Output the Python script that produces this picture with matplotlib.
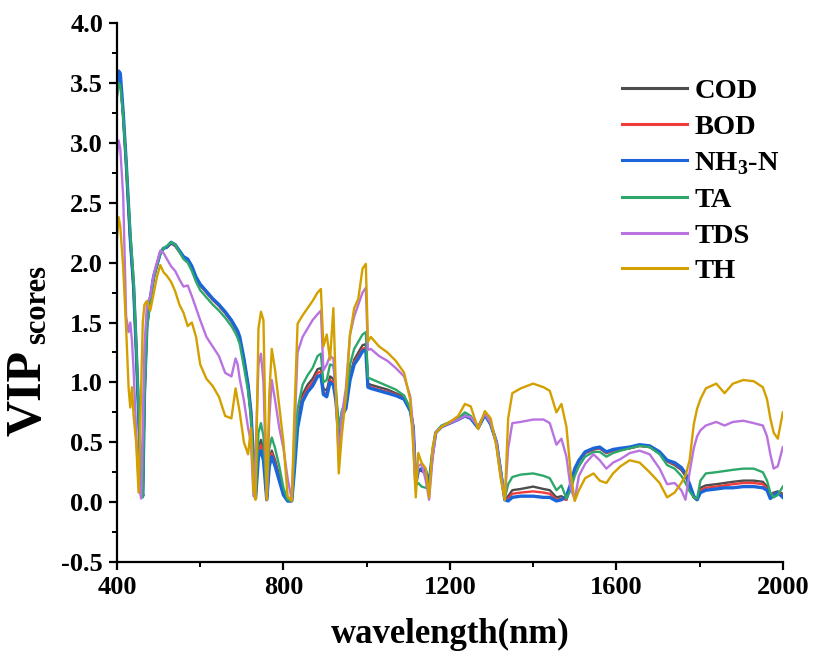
import matplotlib
matplotlib.use("Agg")
import matplotlib.pyplot as plt
from matplotlib.ticker import MultipleLocator, FormatStrFormatter

plt.rcParams['font.family'] = ['Liberation Serif', 'DejaVu Serif']
plt.rcParams['font.weight'] = 'bold'
plt.rcParams['mathtext.fontset'] = 'custom'
plt.rcParams['mathtext.rm'] = 'Liberation Serif:bold'
plt.rcParams['mathtext.bf'] = 'Liberation Serif:bold'

# ---- data ----
wavelength = [
    400, 404, 408, 415, 422, 428, 432, 436, 440, 446, 452, 458, 462, 466, 472, 480, 488, 496, 504, 512,
    520, 530, 540, 550, 560, 570, 580, 590, 600, 615, 630, 645, 660, 675, 685, 690, 695, 705, 715, 722,
    728, 733, 740, 746, 752, 760, 766, 772, 780, 790, 800, 810, 820, 826, 834, 846, 858, 870, 882, 890,
    896, 904, 912, 920, 926, 933, 940, 950, 960, 970, 980, 990, 998, 1003, 1010, 1030, 1050, 1070, 1090, 1105,
    1112, 1118, 1124, 1132, 1142, 1150, 1158, 1166, 1180, 1200, 1220, 1236, 1250, 1268, 1284, 1298, 1312, 1322, 1332, 1340,
    1350, 1370, 1400, 1425, 1440, 1456, 1468, 1480, 1490, 1500, 1510, 1525, 1545, 1560, 1576, 1592, 1610, 1632, 1656, 1680,
    1704, 1722, 1740, 1756, 1766, 1776, 1786, 1794, 1802, 1815, 1840, 1860, 1880, 1905, 1930, 1952, 1962, 1970, 1978, 1988,
    2000]

cod = [
    3.40, 3.55, 3.52, 3.22, 2.82, 2.43, 2.18, 1.98, 1.78, 1.28, 0.73, 0.14, 0.05, 0.92, 1.48, 1.70, 1.88, 1.98, 2.08, 2.12,
    2.13, 2.16, 2.14, 2.09, 2.04, 2.02, 1.96, 1.87, 1.81, 1.75, 1.69, 1.64, 1.58, 1.51, 1.45, 1.42, 1.37, 1.19, 0.97, 0.74,
    0.35, 0.03, 0.45, 0.52, 0.42, 0.02, 0.35, 0.43, 0.35, 0.22, 0.08, 0.01, 0.01, 0.30, 0.68, 0.90, 0.98, 1.03, 1.11, 1.12,
    0.95, 0.93, 1.05, 1.03, 0.88, 0.58, 0.74, 0.80, 1.06, 1.19, 1.25, 1.31, 1.32, 0.99, 0.98, 0.96, 0.94, 0.91, 0.88, 0.78,
    0.63, 0.18, 0.27, 0.26, 0.24, 0.14, 0.40, 0.58, 0.63, 0.66, 0.69, 0.72, 0.70, 0.62, 0.73, 0.65, 0.50, 0.26, 0.02, 0.05,
    0.10, 0.11, 0.13, 0.11, 0.10, 0.04, 0.05, 0.02, 0.14, 0.27, 0.34, 0.41, 0.44, 0.45, 0.41, 0.43, 0.44, 0.45, 0.47, 0.46,
    0.41, 0.34, 0.31, 0.27, 0.22, 0.13, 0.04, 0.02, 0.12, 0.14, 0.15, 0.16, 0.17, 0.18, 0.18, 0.17, 0.13, 0.06, 0.08, 0.09,
    0.07]

bod = [
    3.42, 3.57, 3.55, 3.23, 2.83, 2.44, 2.19, 1.99, 1.79, 1.29, 0.74, 0.14, 0.05, 0.91, 1.48, 1.70, 1.88, 1.98, 2.08, 2.12,
    2.13, 2.16, 2.14, 2.09, 2.04, 2.02, 1.96, 1.87, 1.81, 1.75, 1.69, 1.64, 1.58, 1.51, 1.45, 1.42, 1.37, 1.19, 0.97, 0.74,
    0.35, 0.03, 0.42, 0.48, 0.39, 0.02, 0.33, 0.41, 0.33, 0.20, 0.07, 0.01, 0.01, 0.28, 0.65, 0.87, 0.95, 1.00, 1.08, 1.09,
    0.92, 0.90, 1.02, 1.00, 0.86, 0.56, 0.73, 0.79, 1.04, 1.17, 1.22, 1.28, 1.29, 0.97, 0.96, 0.94, 0.92, 0.90, 0.87, 0.77,
    0.62, 0.16, 0.26, 0.27, 0.25, 0.14, 0.40, 0.58, 0.63, 0.66, 0.69, 0.72, 0.70, 0.62, 0.73, 0.65, 0.50, 0.25, 0.02, 0.03,
    0.07, 0.08, 0.09, 0.08, 0.07, 0.02, 0.03, 0.02, 0.14, 0.27, 0.34, 0.41, 0.44, 0.45, 0.41, 0.43, 0.44, 0.45, 0.47, 0.46,
    0.41, 0.34, 0.32, 0.28, 0.23, 0.14, 0.04, 0.02, 0.10, 0.12, 0.13, 0.14, 0.15, 0.16, 0.16, 0.15, 0.11, 0.05, 0.07, 0.08,
    0.06]

nh3n = [
    3.45, 3.60, 3.58, 3.25, 2.85, 2.45, 2.20, 2.00, 1.80, 1.30, 0.75, 0.15, 0.05, 0.90, 1.48, 1.70, 1.88, 1.98, 2.08, 2.12,
    2.13, 2.17, 2.15, 2.10, 2.05, 2.03, 1.97, 1.88, 1.82, 1.76, 1.70, 1.65, 1.59, 1.52, 1.46, 1.43, 1.38, 1.20, 0.98, 0.75,
    0.35, 0.03, 0.38, 0.43, 0.35, 0.02, 0.30, 0.38, 0.30, 0.18, 0.06, 0.01, 0.01, 0.25, 0.62, 0.84, 0.92, 0.97, 1.05, 1.06,
    0.90, 0.88, 1.00, 0.98, 0.85, 0.55, 0.72, 0.78, 1.02, 1.15, 1.20, 1.26, 1.27, 0.96, 0.95, 0.93, 0.91, 0.89, 0.86, 0.76,
    0.62, 0.15, 0.26, 0.28, 0.26, 0.15, 0.40, 0.58, 0.63, 0.66, 0.69, 0.72, 0.70, 0.62, 0.73, 0.65, 0.50, 0.25, 0.02, 0.01,
    0.04, 0.05, 0.05, 0.04, 0.04, 0.01, 0.02, 0.05, 0.15, 0.28, 0.35, 0.42, 0.45, 0.46, 0.42, 0.44, 0.45, 0.46, 0.48, 0.47,
    0.42, 0.35, 0.33, 0.29, 0.24, 0.15, 0.05, 0.02, 0.08, 0.10, 0.11, 0.12, 0.12, 0.13, 0.13, 0.12, 0.10, 0.03, 0.06, 0.08,
    0.04]

ta = [
    3.38, 3.50, 3.48, 3.22, 2.85, 2.48, 2.25, 2.05, 1.85, 1.35, 0.80, 0.18, 0.04, 0.85, 1.45, 1.68, 1.86, 1.98, 2.07, 2.12,
    2.14, 2.17, 2.15, 2.09, 2.03, 2.00, 1.93, 1.84, 1.77, 1.71, 1.65, 1.60, 1.54, 1.47, 1.41, 1.37, 1.32, 1.13, 0.93, 0.70,
    0.30, 0.03, 0.58, 0.66, 0.55, 0.02, 0.45, 0.54, 0.45, 0.30, 0.12, 0.02, 0.01, 0.35, 0.78, 0.98, 1.06, 1.12, 1.22, 1.24,
    1.00, 1.02, 1.15, 1.14, 0.95, 0.62, 0.76, 0.85, 1.15, 1.28, 1.34, 1.40, 1.42, 1.04, 1.03, 1.00, 0.97, 0.94, 0.89, 0.78,
    0.62, 0.14, 0.16, 0.13, 0.12, 0.13, 0.40, 0.58, 0.64, 0.67, 0.70, 0.75, 0.72, 0.63, 0.74, 0.66, 0.50, 0.28, 0.03, 0.15,
    0.21, 0.23, 0.24, 0.22, 0.20, 0.10, 0.14, 0.03, 0.10, 0.22, 0.30, 0.38, 0.42, 0.42, 0.38, 0.41, 0.43, 0.45, 0.47, 0.46,
    0.40, 0.31, 0.28, 0.22, 0.16, 0.09, 0.04, 0.03, 0.18, 0.24, 0.25, 0.26, 0.27, 0.28, 0.28, 0.25, 0.18, 0.08, 0.04, 0.06,
    0.13]

tds = [
    2.90, 3.02, 2.95, 2.55, 1.55, 1.42, 1.50, 1.35, 1.10, 0.60, 0.15, 0.03, 0.60, 1.30, 1.65, 1.72, 1.90, 2.00, 2.10, 2.08,
    2.03, 1.97, 1.93, 1.86, 1.80, 1.81, 1.72, 1.62, 1.52, 1.38, 1.30, 1.22, 1.08, 1.05, 1.20, 1.15, 1.03, 0.85, 0.62, 0.50,
    0.05, 0.40, 1.15, 1.24, 1.00, 0.02, 0.70, 1.02, 0.85, 0.62, 0.45, 0.20, 0.02, 0.55, 1.25, 1.38, 1.45, 1.52, 1.57, 1.60,
    1.10, 1.15, 1.22, 1.20, 0.90, 0.35, 0.72, 0.95, 1.40, 1.55, 1.65, 1.75, 1.79, 1.27, 1.28, 1.22, 1.18, 1.12, 1.05, 0.88,
    0.60, 0.15, 0.30, 0.32, 0.18, 0.02, 0.35, 0.58, 0.63, 0.66, 0.69, 0.72, 0.71, 0.63, 0.74, 0.66, 0.50, 0.25, 0.02, 0.45,
    0.66, 0.67, 0.69, 0.69, 0.66, 0.48, 0.53, 0.38, 0.12, 0.02, 0.22, 0.32, 0.40, 0.35, 0.28, 0.33, 0.36, 0.41, 0.43, 0.40,
    0.28, 0.15, 0.16, 0.10, 0.02, 0.25, 0.45, 0.55, 0.60, 0.64, 0.67, 0.64, 0.67, 0.68, 0.66, 0.64, 0.55, 0.40, 0.28, 0.30,
    0.46]

th = [
    2.20, 2.38, 2.30, 1.96, 1.45, 0.95, 0.79, 0.96, 0.72, 0.50, 0.08, 0.95, 1.50, 1.65, 1.68, 1.60, 1.74, 1.88, 1.98, 1.92,
    1.89, 1.84, 1.76, 1.65, 1.58, 1.47, 1.50, 1.38, 1.15, 1.03, 0.97, 0.88, 0.72, 0.70, 0.95, 0.85, 0.75, 0.50, 0.40, 0.62,
    0.10, 0.02, 1.45, 1.59, 1.52, 0.02, 0.90, 1.28, 1.10, 0.80, 0.50, 0.05, 0.01, 0.70, 1.49, 1.56, 1.62, 1.68, 1.75, 1.78,
    1.30, 1.40, 1.19, 1.62, 0.95, 0.24, 0.55, 0.88, 1.40, 1.62, 1.70, 1.95, 1.99, 1.34, 1.38, 1.30, 1.25, 1.18, 1.08, 0.85,
    0.45, 0.04, 0.41, 0.33, 0.28, 0.04, 0.45, 0.58, 0.63, 0.67, 0.72, 0.82, 0.80, 0.61, 0.76, 0.70, 0.46, 0.20, 0.02, 0.70,
    0.91, 0.95, 0.99, 0.96, 0.93, 0.75, 0.82, 0.63, 0.25, 0.01, 0.10, 0.20, 0.24, 0.18, 0.16, 0.24, 0.30, 0.35, 0.33, 0.25,
    0.16, 0.04, 0.08, 0.16, 0.22, 0.35, 0.65, 0.78, 0.86, 0.95, 0.99, 0.91, 0.99, 1.02, 1.01, 0.96, 0.86, 0.70, 0.58, 0.53,
    0.75]

labels = ['COD', 'BOD', r'NH$_3$-N', 'TA', 'TDS', 'TH']
colors = ['#4d4d4d', '#f03c3c', '#1a66d9', '#2ea86a', '#b973e0', '#d4a000']

fig = plt.figure(figsize=(8.14, 6.62), dpi=100)
ax = fig.add_axes([0.1437, 0.151, 0.818, 0.814])

series = [cod, bod, nh3n, ta, tds, th]
for vals, lab, col in zip(series, labels, colors):
    lw = 2.4 if lab.startswith('NH') else 1.7
    ax.plot(wavelength, vals, color=col, lw=lw, label=lab)

ax.set_xlim(400, 2000)
ax.set_ylim(-0.5, 4.0)
ax.xaxis.set_major_locator(MultipleLocator(400))
ax.xaxis.set_minor_locator(MultipleLocator(200))
ax.yaxis.set_major_locator(MultipleLocator(0.5))
ax.yaxis.set_minor_locator(MultipleLocator(0.25))
ax.yaxis.set_major_formatter(FormatStrFormatter('%.1f'))

for s in ['top', 'right']:
    ax.spines[s].set_visible(False)
for s in ['left', 'bottom']:
    ax.spines[s].set_linewidth(1.6)
ax.tick_params(which='major', direction='out', length=6, width=1.6, labelsize=19, pad=4)
ax.tick_params(which='minor', direction='out', length=3.5, width=1.4)

ax.set_xlabel('wavelength(nm)', fontsize=25, fontweight='bold', labelpad=14)

# y label: big "VIP" with a subscript "scores"
fig.text(29 / 814, 1 - 393 / 662, 'VIP', rotation=90, ha='center', va='center',
         fontsize=36, fontweight='bold')
fig.text(38 / 814, 1 - 305 / 662, 'scores', rotation=90, ha='center', va='center',
         fontsize=22, fontweight='bold')

leg = ax.legend(loc='upper left', bbox_to_anchor=(0.758, 0.898), frameon=False,
                fontsize=20.5, handlelength=2.3, labelspacing=0.35, handletextpad=0.25,
                borderaxespad=0, borderpad=0)
for t in leg.get_texts():
    t.set_fontweight('bold')
for h in leg.get_lines():
    h.set_linewidth(2.2)

fig.savefig('out.png', dpi=100)
